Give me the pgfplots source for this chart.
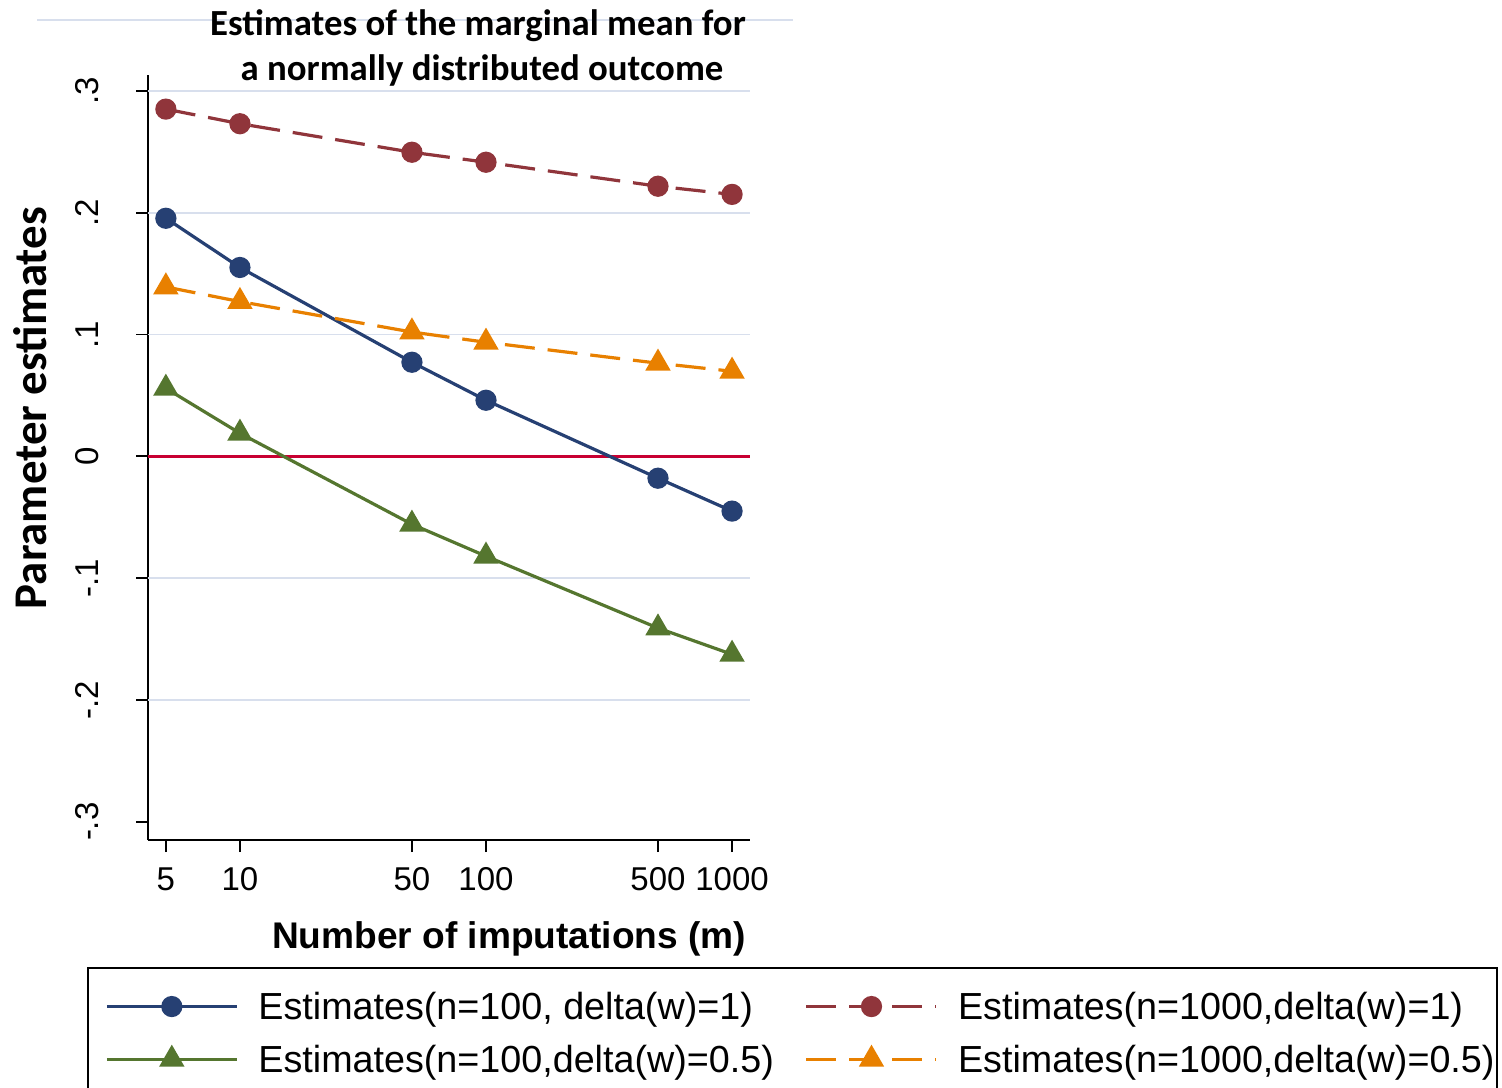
\documentclass[border=0pt]{standalone}
\usepackage{pgfplots}
\pgfplotsset{compat=1.18}
\usepackage{fontspec}
\setmainfont{Liberation Sans}
\newfontfamily\carlito{Carlito}
\definecolor{cnavy}{RGB}{38,64,115}
\definecolor{cmaroon}{RGB}{144,53,59}
\definecolor{cgreen}{RGB}{85,118,47}
\definecolor{corange}{RGB}{232,128,0}
\definecolor{czero}{RGB}{200,0,50}
\definecolor{cgrid}{RGB}{216,223,237}
\begin{document}
\begin{tikzpicture}
\useasboundingbox (0,0) rectangle (1502bp,-1088bp);
\clip (0,0) rectangle (1502bp,-1088bp);
\draw[cgrid, line width=1.5bp] (37bp,-20bp) -- (793bp,-20bp);
\node[anchor=base, font=\carlito\bfseries\fontsize{36.8bp}{44bp}\selectfont] at (478bp,-35bp) {Estimates of the marginal mean for};
\node[anchor=base, font=\carlito\bfseries\fontsize{36.8bp}{44bp}\selectfont] at (482bp,-80bp) {a normally distributed outcome};
\begin{axis}[
  at={(148bp,-840bp)}, anchor=south west,
  scale only axis, width=602bp, height=765bp,
  xmode=log, xmin=4.23, xmax=1183,
  ymin=-0.315, ymax=0.313,
  axis x line*=bottom, axis y line*=left,
  axis line style={line width=1.8bp},
  xtick={5,10,50,100,500,1000}, xticklabels={5,10,50,100,500,1000},
  minor xtick={},
  ytick={-0.3,-0.2,-0.1,0,0.1,0.2,0.3}, yticklabels={-.3,-.2,-.1,0,.1,.2,.3},
  tick align=outside, major tick length=12bp,
  tick style={black, line width=1.8bp},
  ticklabel style={font=\fontsize{33bp}{36bp}\selectfont},
  /pgf/number format/assume math mode=true,
  yticklabel style={xshift=-38bp, rotate=90, anchor=base},
  xticklabel style={anchor=base, yshift=-38bp},
  extra y ticks={-0.2,-0.1,0.1,0.2,0.3}, extra y tick labels={},
  extra y tick style={grid=major, major tick length=0pt},
  major grid style={cgrid, line width=1.8bp},
  xlabel={Number of imputations (m)},
  xlabel style={at={(0.5997,-0.1412)}, anchor=base, font=\bfseries\fontsize{37.1bp}{44bp}\selectfont},
  ylabel={Parameter estimates},
  ylabel style={at={(-0.1678,0.5647)}, anchor=base, rotate=0, font=\carlito\bfseries\fontsize{46.9bp}{52bp}\selectfont},
  legend columns=2,
  legend cell align=left,
  legend image code/.code={\draw[mark repeat=2,mark phase=2,#1] plot coordinates {(0bp,0bp)(65bp,0bp)(130bp,0bp)};},
  legend style={at={(-0.0714,-0.1960)}, anchor=north west, draw=none, fill=none, inner sep=0pt,
    font=\fontsize{37.7bp}{44bp}\selectfont, row sep=20bp,
    /tikz/every odd column/.append style={column sep=18bp},
    /tikz/every even column/.append style={column sep=29bp}},
]
\addplot[czero, line width=2.8bp, forget plot] coordinates {(4.23,0) (1183,0)};
\addplot[cnavy, line width=3.2bp, mark=*, mark size=9bp, mark options={solid}] coordinates {
(5,0.1954) (10,0.155) (50,0.0772) (100,0.046) (500,-0.018) (1000,-0.045)};
\addlegendentry{Estimates(n=100, delta(w)=1)}
\addplot[cmaroon, line width=3.2bp, dash pattern=on 30bp off 13bp, mark=*, mark size=9bp, mark options={solid}] coordinates {
(5,0.285) (10,0.273) (50,0.2496) (100,0.2414) (500,0.2217) (1000,0.215)};
\addlegendentry{Estimates(n=1000,delta(w)=1)}
\addplot[cgreen, line width=3.2bp, mark=triangle*, mark size=11.5bp, mark options={solid}] coordinates {
(5,0.0558) (10,0.0189) (50,-0.0558) (100,-0.082) (500,-0.141) (1000,-0.1626)};
\addlegendentry{Estimates(n=100,delta(w)=0.5)}
\addplot[corange, line width=3.2bp, dash pattern=on 30bp off 13bp, mark=triangle*, mark size=11.5bp, mark options={solid}] coordinates {
(5,0.139) (10,0.127) (50,0.102) (100,0.0936) (500,0.0764) (1000,0.0698)};
\addlegendentry{Estimates(n=1000,delta(w)=0.5)}
\end{axis}
\draw[black, line width=1.8bp] (88bp,-1100bp) -- (88bp,-968bp) -- (1497bp,-968bp) -- (1497bp,-1100bp);
\draw[black, line width=2.6bp] (88bp,-968bp) -- (1497bp,-968bp);
\end{tikzpicture}
\end{document}
